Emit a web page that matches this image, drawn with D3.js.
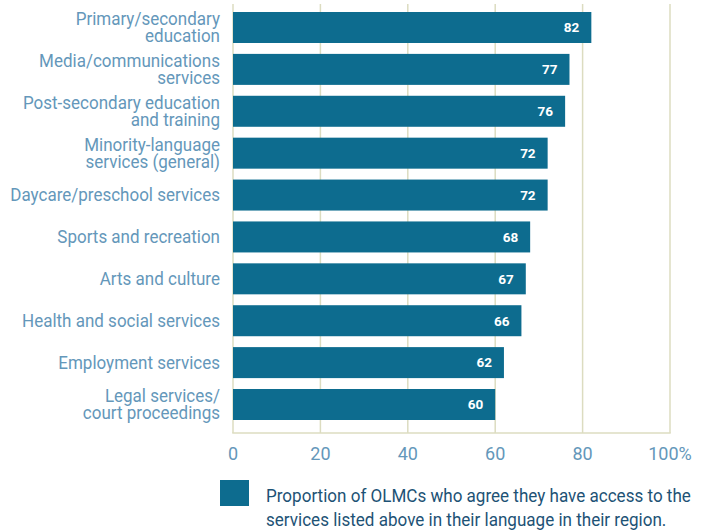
<!DOCTYPE html>
<html>
<head>
<meta charset="utf-8">
<script src="https://cdn.jsdelivr.net/npm/d3@7"></script>
<style>
  html, body { margin: 0; padding: 0; background: #ffffff; }
  svg { display: block; }
  text { font-family: Roboto, "Noto Sans", sans-serif; }
</style>
</head>
<body>
<svg id="chart" width="704" height="532"></svg>
<script>
// Service categories, top to bottom (line breaks as set in the labels)
const categories = [
  ["Primary/secondary", "education"],
  ["Media/communications", "services"],
  ["Post-secondary education", "and training"],
  ["Minority-language", "services (general)"],
  ["Daycare/preschool services"],
  ["Sports and recreation"],
  ["Arts and culture"],
  ["Health and social services"],
  ["Employment services"],
  ["Legal services/", "court proceedings"]
];
// Percentage of OLMCs reporting access in their language
const values = [82, 77, 76, 72, 72, 68, 67, 66, 62, 60];
const tickValues = [0, 20, 40, 60, 80, 100];
const tickLabels = ["0", "20", "40", "60", "80", "100%"];
const legendLines = [
  "Proportion of OLMCs who agree they have access to the",
  "services listed above in their language in their region."
];

const svg = d3.select("#chart");
const barColor = "#0d6c8f";
const gridColor = "#dcdcc0";
const labelColor = "#6497ba";
const narrow = 0.972;   // horizontal squeeze for a condensed look

const plotLeft = 233, plotRight = 670, plotTop = 4, plotBottom = 433;

const x = d3.scaleLinear().domain([0, 100]).range([plotLeft, plotRight]);
const y = d3.scaleBand()
  .domain(d3.range(categories.length))
  .range([12, 420])
  .paddingInner(0.26)
  .paddingOuter(0);

// Vertical gridlines
svg.append("g")
  .selectAll("line")
  .data(tickValues)
  .join("line")
  .attr("x1", d => x(d)).attr("x2", d => x(d))
  .attr("y1", plotTop).attr("y2", plotBottom)
  .attr("stroke", gridColor)
  .attr("stroke-width", 1.5);

// Baseline
svg.append("line")
  .attr("x1", plotLeft - 0.75).attr("x2", plotRight + 0.75)
  .attr("y1", plotBottom).attr("y2", plotBottom)
  .attr("stroke", gridColor)
  .attr("stroke-width", 1.5);

// Bars
svg.append("g")
  .selectAll("rect")
  .data(values)
  .join("rect")
  .attr("x", x(0))
  .attr("y", (d, i) => y(i))
  .attr("width", d => x(d) - x(0))
  .attr("height", y.bandwidth())
  .attr("fill", barColor);

// Value labels inside bar ends
svg.append("g")
  .selectAll("text")
  .data(values)
  .join("text")
  .attr("x", d => x(d) - 12)
  .attr("y", (d, i) => y(i) + y.bandwidth() / 2)
  .attr("dy", "0.36em")
  .attr("text-anchor", "end")
  .attr("fill", "#ffffff")
  .attr("font-weight", "bold")
  .attr("font-size", 13.5)
  .text(d => d);

// Category labels
const lineHeight = 17.5;
const catG = svg.append("g");
categories.forEach((lines, i) => {
  const cy = y(i) + y.bandwidth() / 2;
  const t = catG.append("text")
    .attr("transform", `translate(220,0) scale(${narrow},1)`)
    .attr("text-anchor", "end")
    .attr("fill", labelColor)
    .attr("font-size", 17.5);
  lines.forEach((ln, j) => {
    t.append("tspan")
      .attr("x", 0)
      .attr("y", cy + (j - (lines.length - 1) / 2) * lineHeight)
      .attr("dy", "0.35em")
      .text(ln);
  });
});

// X axis tick labels
svg.append("g")
  .selectAll("text")
  .data(tickValues)
  .join("text")
  .attr("x", d => x(d))
  .attr("y", 454)
  .attr("dy", "0.35em")
  .attr("text-anchor", "middle")
  .attr("fill", labelColor)
  .attr("font-size", 18)
  .text((d, i) => tickLabels[i]);

// Legend
svg.append("rect")
  .attr("x", 220).attr("y", 480)
  .attr("width", 29).attr("height", 26)
  .attr("fill", barColor);

const legText = svg.append("text")
  .attr("transform", "translate(266,0) scale(0.975,1)")
  .attr("fill", "#1d5275")
  .attr("font-size", 17.5);
legendLines.forEach((ln, j) => {
  legText.append("tspan")
    .attr("x", 0)
    .attr("y", 502 + j * 24)
    .text(ln);
});
</script>
</body>
</html>
